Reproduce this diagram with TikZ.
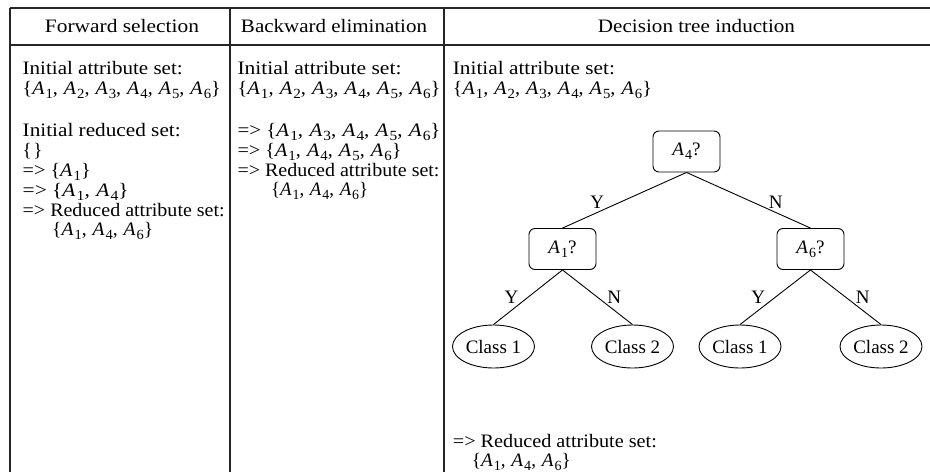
\documentclass[tikz,border=0pt]{standalone}
\usepackage{fontspec}
\setmainfont{Liberation Serif}
\usetikzlibrary{shapes.geometric}
\newcommand\At[1]{\textit{A}\kern0.05em\raisebox{-0.22em}{\fontsize{14}{14}\selectfont #1}}
\newcommand\sepa{,\kern0.3em}
\newcommand\fw[2]{\resizebox{#1pt}{\height}{#2}}
\begin{document}
\begin{tikzpicture}[x=1pt,y=-1pt,
  every node/.style={font=\fontsize{19}{20}\selectfont},
  txt/.style={anchor=base west, inner sep=0pt},
  hdr/.style={anchor=base, inner sep=0pt},
  tbl/.style={line width=1.3pt, black!85},
  testbox/.style={draw, rounded corners=6pt, minimum width=67pt, minimum height=41pt, inner sep=0pt, line width=0.9pt},
  leaf/.style={draw, ellipse, minimum width=82pt, minimum height=43pt, inner xsep=-7pt, inner ysep=0pt, line width=0.9pt},
  branch/.style={line width=0.9pt},
  lbl/.style={inner sep=0pt}]
\useasboundingbox (0,0) rectangle (930,472);
% table rules
\draw[tbl] (10,8) -- (930,8);
\draw[tbl] (10,45) -- (930,45);
\draw[tbl] (10,8) -- (10,472);
\draw[tbl] (230,8) -- (230,472);
\draw[tbl] (444,8) -- (444,472);
% headers
\node[hdr] (h1) at (122,32.5) {\fw{154}{Forward selection}};
\node[hdr] (h2) at (334,32.5) {\fw{186}{Backward elimination}};
\node[hdr] (h3) at (696.5,32.5) {\fw{197}{Decision tree induction}};
% column 1
\node[txt] (f1) at (22.5,74) {\fw{160}{Initial attribute set:}};
\node[txt] (f2) at (22.5,94) {\fw{198}{\{\At1\sepa\At2\sepa\At3\sepa\At4\sepa\At5\sepa\At6\}}};
\node[txt] (f3) at (22.5,136) {\fw{158}{Initial reduced set:}};
\node[txt] (f4) at (22.5,156) {\{\kern0.08em\}};
\node[txt] (f5) at (22.5,176) {\fw{68}{=> \{\At1\}}};
\node[txt] (f6) at (22.5,196) {\fw{106}{=> \{\At1\sepa\At4\}}};
\node[txt] (f7) at (22.5,216) {\fw{202}{=> Reduced attribute set:}};
\node[txt] (f8) at (52,235.5) {\fw{101}{\{\At1\sepa\At4\sepa\At6\}}};
% column 2
\node[txt] (b1) at (237.3,74) {\fw{164}{Initial attribute set:}};
\node[txt] (b2) at (237.3,94) {\fw{203}{\{\At1\sepa\At2\sepa\At3\sepa\At4\sepa\At5\sepa\At6\}}};
\node[txt] (b3) at (237.3,136) {\fw{203}{=> \{\At1\sepa\At3\sepa\At4\sepa\At5\sepa\At6\}}};
\node[txt] (b4) at (237.3,156) {\fw{164}{=> \{\At1\sepa\At4\sepa\At5\sepa\At6\}}};
\node[txt] (b5) at (237.3,176) {\fw{202}{=> Reduced attribute set:}};
\node[txt] (b6) at (271,195.5) {\fw{97}{\{\At1\sepa\At4\sepa\At6\}}};
% column 3
\node[txt] (d1) at (452.7,74) {\fw{162}{Initial attribute set:}};
\node[txt] (d2) at (452.7,94) {\fw{199}{\{\At1\sepa\At2\sepa\At3\sepa\At4\sepa\At5\sepa\At6\}}};
\node[txt] (d3) at (452.7,447) {\fw{204}{=> Reduced attribute set:}};
\node[txt] (d4) at (471.7,466) {\fw{99}{\{\At1\sepa\At4\sepa\At6\}}};
% tree
\node[testbox] (a4) at (686.5,151.5) {\At4?};
\node[testbox] (a1) at (562.5,249) {\At1?};
\node[testbox] (a6) at (810.5,249) {\At6?};
\node[leaf] (c1) at (493.5,346.5) {Class 1};
\node[leaf] (c2) at (632.5,346.5) {Class 2};
\node[leaf] (c3) at (740,346.5) {Class 1};
\node[leaf] (c4) at (881,346.5) {Class 2};
\draw[branch] (a4.south) -- node[lbl, pos=0.72, yshift=10.5pt] {Y} (a1.north);
\draw[branch] (a4.south) -- node[lbl, pos=0.72, yshift=10.5pt] {N} (a6.north);
\draw[branch] (a1.south) -- node[lbl, pos=0.74, yshift=13.5pt] {Y} (c1.north);
\draw[branch] (a1.south) -- node[lbl, pos=0.74, yshift=13.5pt] {N} (c2.north);
\draw[branch] (a6.south) -- node[lbl, pos=0.74, yshift=13.5pt] {Y} (c3.north);
\draw[branch] (a6.south) -- node[lbl, pos=0.74, yshift=13.5pt] {N} (c4.north);
\end{tikzpicture}
\end{document}
